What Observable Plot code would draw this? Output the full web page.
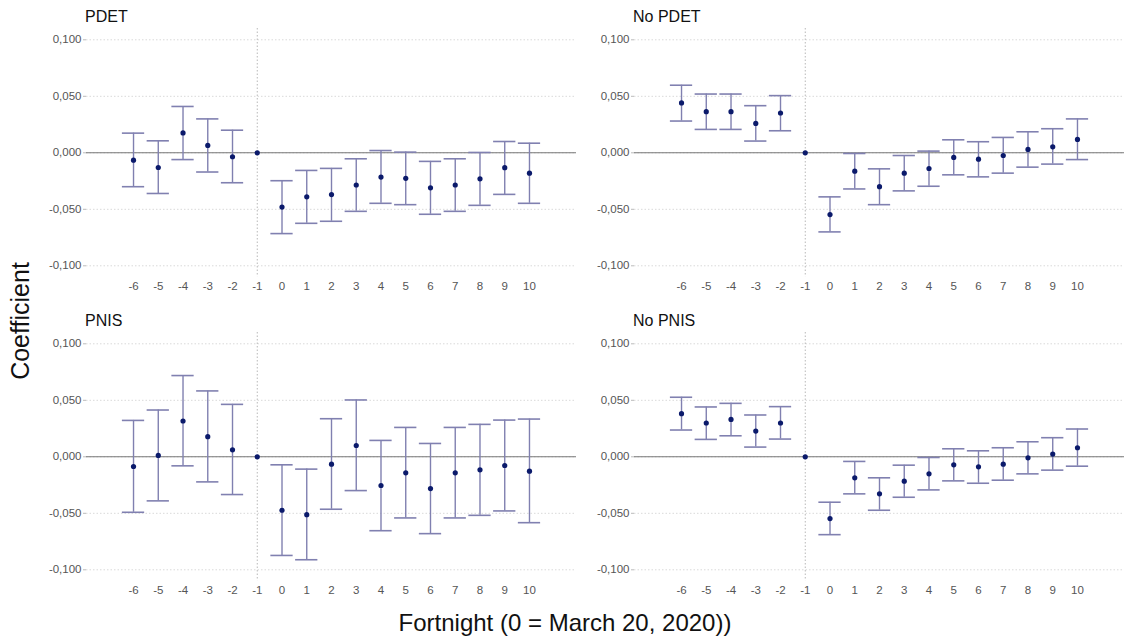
<!DOCTYPE html>
<html>
<head>
<meta charset="utf-8">
<script src="https://cdn.jsdelivr.net/npm/d3@7"></script>
<script src="https://cdn.jsdelivr.net/npm/@observablehq/plot@0.6"></script>
<style>
  html, body { margin: 0; padding: 0; background: #fff; }
  #wrap { position: relative; width: 1124px; height: 641px; font-family: "Liberation Sans", Arial, sans-serif; overflow: hidden; }
  .panel { position: absolute; }
  .ptitle { position: absolute; font-size: 16px; color: #111; }
  .xtitle { position: absolute; left: 0; width: 1130px; top: 609px; text-align: center; font-size: 24px; color: #111; }
  .ytitle { position: absolute; left: 20px; top: 321px; transform: translate(-50%, -50%) rotate(-90deg); font-size: 25px; color: #111; white-space: nowrap; }
</style>
</head>
<body>
<div id="wrap"></div>
<script>
const fortnights = [-6,-5,-4,-3,-2,-1,0,1,2,3,4,5,6,7,8,9,10];
const yTicks = [-0.1, -0.05, 0, 0.05, 0.1];

// PDET
const pdetEst = [-0.0065,-0.013,0.0176,0.0065,-0.0035,0,-0.048,-0.039,-0.037,-0.0285,-0.0215,-0.0226,-0.031,-0.0285,-0.023,-0.0132,-0.018];
const pdetLo  = [-0.030,-0.036,-0.006,-0.017,-0.0265,null,-0.0715,-0.0624,-0.0606,-0.0518,-0.0447,-0.0459,-0.0544,-0.0518,-0.0465,-0.0368,-0.0447];
const pdetHi  = [0.0174,0.0106,0.041,0.030,0.020,null,-0.0247,-0.0156,-0.0138,-0.0053,0.002,0.0006,-0.0076,-0.0053,0.0003,0.010,0.0085];

// No PDET
const noPdetEst = [0.0441,0.0364,0.0364,0.026,0.0352,0,-0.0547,-0.0163,-0.030,-0.018,-0.0139,-0.0041,-0.0056,-0.0024,0.003,0.0053,0.0118];
const noPdetLo  = [0.0281,0.0207,0.0207,0.0104,0.0195,null,-0.070,-0.032,-0.0459,-0.0337,-0.0296,-0.0195,-0.0213,-0.018,-0.0127,-0.010,-0.006];
const noPdetHi  = [0.0598,0.052,0.052,0.0417,0.0506,null,-0.039,-0.0006,-0.0142,-0.0024,0.0015,0.0115,0.0098,0.0136,0.0186,0.0213,0.030];

// PNIS
const pnisEst = [-0.0086,0.0012,0.0317,0.0178,0.0062,0,-0.0473,-0.0512,-0.0065,0.010,-0.0254,-0.0142,-0.0281,-0.0142,-0.0115,-0.0077,-0.0127];
const pnisLo  = [-0.0491,-0.039,-0.008,-0.0222,-0.0334,null,-0.0873,-0.0911,-0.0464,-0.0299,-0.0654,-0.0541,-0.068,-0.0541,-0.0518,-0.0479,-0.0583];
const pnisHi  = [0.0322,0.0414,0.0719,0.0583,0.0464,null,-0.0071,-0.0109,0.0337,0.0503,0.0145,0.026,0.0118,0.026,0.0287,0.0325,0.0334];

// No PNIS
const noPnisEst = [0.0382,0.0299,0.0331,0.0228,0.0299,0,-0.0547,-0.0186,-0.0328,-0.0216,-0.0151,-0.0071,-0.0089,-0.0065,-0.0009,0.0024,0.008];
const noPnisLo  = [0.0237,0.0154,0.0186,0.0086,0.0157,null,-0.0689,-0.0328,-0.0473,-0.0358,-0.0293,-0.0213,-0.0234,-0.0207,-0.0151,-0.0118,-0.0083];
const noPnisHi  = [0.0527,0.0441,0.0473,0.037,0.0444,null,-0.0402,-0.0041,-0.0186,-0.0074,-0.0006,0.0071,0.0053,0.008,0.0133,0.0169,0.0246];

const panels = [
  {title: "PDET",    est: pdetEst,   lo: pdetLo,   hi: pdetHi,   left: 0,   top: 0},
  {title: "No PDET", est: noPdetEst, lo: noPdetLo, hi: noPdetHi, left: 548, top: 0},
  {title: "PNIS",    est: pnisEst,   lo: pnisLo,   hi: pnisHi,   left: 0,   top: 304},
  {title: "No PNIS", est: noPnisEst, lo: noPnisLo, hi: noPnisHi, left: 548, top: 304}
];

const fmt = d => (d < 0 ? "-" : "") + Math.abs(d).toFixed(3).replace(".", ",");
const barColor = "#8080b0";
const ptColor = "#0b1a6b";
const capHalf = 0.45;

const wrap = document.getElementById("wrap");

for (const p of panels) {
  const rows = fortnights.map((f, i) => ({x: f, est: p.est[i], lo: p.lo[i], hi: p.hi[i]}));
  const bars = rows.filter(d => d.lo != null);
  const width = p.left === 0 ? 580 : 576;
  const chart = Plot.plot({
    width,
    height: 300,
    marginLeft: 86,
    marginRight: width - 86 - 490,
    marginTop: 28,
    marginBottom: 23.4,
    style: {fontFamily: "'Liberation Sans', Arial, sans-serif", fontSize: "11.5px", background: "transparent"},
    x: {domain: [-7.9, 11.9], ticks: fortnights, tickFormat: d => String(d)},
    y: {domain: [-0.11, 0.11], ticks: yTicks, tickFormat: fmt},
    marks: [
      Plot.gridY(yTicks, {stroke: "#d9d9d9", strokeOpacity: 1, strokeDasharray: "1.5,2", strokeWidth: 1}),
      Plot.ruleX([-1], {stroke: "#b8b8b8", strokeDasharray: "1.5,2", strokeWidth: 1}),
      Plot.ruleY([0], {stroke: "#777", strokeWidth: 1.1}),
      Plot.ruleX(bars, {x: "x", y1: "lo", y2: "hi", stroke: barColor, strokeWidth: 1.4}),
      Plot.ruleY(bars, {y: "lo", x1: d => d.x - capHalf, x2: d => d.x + capHalf, stroke: barColor, strokeWidth: 1.6}),
      Plot.ruleY(bars, {y: "hi", x1: d => d.x - capHalf, x2: d => d.x + capHalf, stroke: barColor, strokeWidth: 1.6}),
      Plot.dot(rows, {x: "x", y: "est", r: 2.6, fill: ptColor, stroke: "none"}),
      Plot.axisY({ticks: yTicks, tickFormat: fmt, tickSize: 3, tickPadding: 2, stroke: "#bbb", color: "#555", label: null}),
      Plot.axisX({ticks: fortnights, tickFormat: d => String(d), tickSize: 0, tickPadding: 5, color: "#555", label: null})
    ]
  });
  const div = document.createElement("div");
  div.className = "panel";
  div.style.left = p.left + "px";
  div.style.top = p.top + "px";
  div.appendChild(chart);
  wrap.appendChild(div);

  const t = document.createElement("div");
  t.className = "ptitle";
  t.textContent = p.title;
  t.style.left = (p.left + 85) + "px";
  t.style.top = (p.top + 8) + "px";
  wrap.appendChild(t);
}

const xt = document.createElement("div");
xt.className = "xtitle";
xt.textContent = "Fortnight (0 = March 20, 2020))";
wrap.appendChild(xt);

const yt = document.createElement("div");
yt.className = "ytitle";
yt.textContent = "Coefficient";
wrap.appendChild(yt);
</script>
</body>
</html>
